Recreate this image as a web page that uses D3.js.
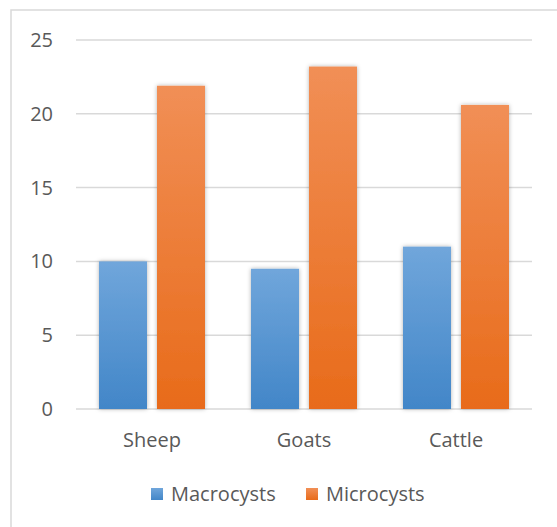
<!DOCTYPE html>
<html>
<head>
<meta charset="utf-8">
<script src="https://cdn.jsdelivr.net/npm/d3@7"></script>
<style>
  body { margin: 0; background: #fff; }
  svg { display: block; font-family: 'Open Sans', sans-serif; }
</style>
</head>
<body>
<svg id="chart" width="557" height="527"></svg>
<script>
const categories = ['Sheep', 'Goats', 'Cattle']
const seriesNames = ['Macrocysts', 'Microcysts']
const macrocysts = [10, 9.5, 11]
const microcysts = [21.9, 23.2, 20.6]
const yTicks = [0, 5, 10, 15, 20, 25]

const svg = d3.select('#chart')
const plotLeft = 76, plotRight = 532, plotTop = 40, plotBottom = 409

// outer frame
svg.append('rect')
    .attr('x', 11).attr('y', 10)
    .attr('width', 560).attr('height', 530)
    .attr('fill', 'none')
    .attr('stroke', '#d9d9d9')
    .attr('stroke-width', 1.5)

const x0 = d3.scaleBand().domain(categories).range([plotLeft, plotRight]).paddingInner(0).paddingOuter(0)
const x1 = d3.scaleBand().domain(seriesNames).range([23, x0.bandwidth() - 23]).paddingInner(10 / 58)
const y = d3.scaleLinear().domain([0, 25]).range([plotBottom, plotTop])

const defs = svg.append('defs')
const colors = {
    Macrocysts: ['#70a6db', '#4286c8'],
    Microcysts: ['#f18f56', '#e86b1a']
}
seriesNames.forEach((s, i) => {
    const g = defs.append('linearGradient')
        .attr('id', 'grad' + i)
        .attr('x1', 0).attr('y1', 0).attr('x2', 0).attr('y2', 1)
    g.append('stop').attr('offset', '0%').attr('stop-color', colors[s][0])
    g.append('stop').attr('offset', '100%').attr('stop-color', colors[s][1])
})
const shadow = defs.append('filter').attr('id', 'shadow')
    .attr('x', '-30%').attr('y', '-10%').attr('width', '160%').attr('height', '120%')
shadow.append('feDropShadow')
    .attr('dx', 0).attr('dy', 0).attr('stdDeviation', 2)
    .attr('flood-color', '#000').attr('flood-opacity', 0.3)

// gridlines
svg.append('g')
    .selectAll('line')
    .data(yTicks)
    .join('line')
    .attr('x1', plotLeft).attr('x2', plotRight)
    .attr('y1', (d) => y(d)).attr('y2', (d) => y(d))
    .attr('stroke', '#d9d9d9')
    .attr('stroke-width', 1.5)

// y labels
svg.append('g')
    .attr('fill', '#595959')
    .attr('font-size', 20)
    .attr('text-anchor', 'end')
    .selectAll('text')
    .data(yTicks)
    .join('text')
    .attr('x', 53)
    .attr('y', (d) => y(d))
    .attr('dy', '0.35em')
    .text((d) => d)

// bars
const rows = categories.map((c, i) => ({ cat: c, values: [macrocysts[i], microcysts[i]] }))
svg.append('g')
    .selectAll('g')
    .data(rows)
    .join('g')
    .attr('transform', (d) => `translate(${x0(d.cat)},0)`)
    .selectAll('rect')
    .data((d) => d.values.map((v, i) => ({ s: seriesNames[i], i: i, v: v })))
    .join('rect')
    .attr('x', (d) => x1(d.s))
    .attr('width', x1.bandwidth())
    .attr('y', (d) => y(d.v))
    .attr('height', (d) => y(0) - y(d.v))
    .attr('fill', (d) => `url(#grad${d.i})`)
    .attr('filter', 'url(#shadow)')

// category labels
svg.append('g')
    .attr('fill', '#595959')
    .attr('font-size', 20)
    .attr('text-anchor', 'middle')
    .selectAll('text')
    .data(categories)
    .join('text')
    .attr('x', (d) => x0(d) + x0.bandwidth() / 2)
    .attr('y', 447)
    .text((d) => d)

// legend
const legendX = [151, 306]
const legend = svg.append('g')
    .selectAll('g')
    .data(seriesNames)
    .join('g')
    .attr('transform', (d, i) => `translate(${legendX[i]},488)`)
legend.append('rect')
    .attr('width', 12).attr('height', 12)
    .attr('fill', (d, i) => `url(#grad${i})`)
legend.append('text')
    .attr('x', 20).attr('y', 13)
    .attr('fill', '#595959')
    .attr('font-size', 20)
    .text((d) => d)
</script>
</body>
</html>
